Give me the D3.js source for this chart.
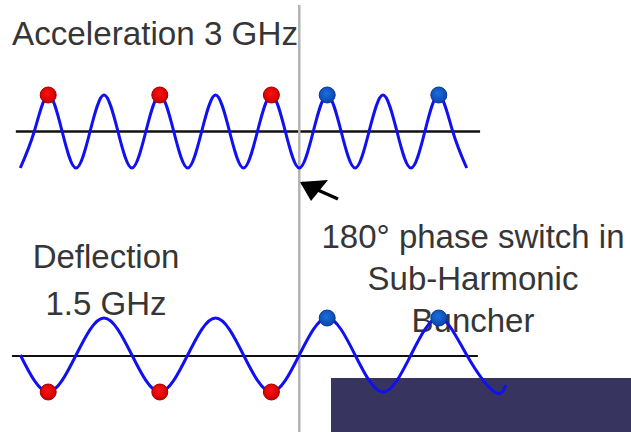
<!DOCTYPE html>
<html>
<head>
<meta charset="utf-8">
<script src="https://cdn.jsdelivr.net/npm/d3@7/dist/d3.min.js"></script>
<style>
  html, body { margin: 0; padding: 0; background: #fff; }
  svg { display: block; }
  text { font-family: "Liberation Sans", Arial, sans-serif; fill: #363636; }
</style>
</head>
<body>
<svg id="chart" width="631" height="432"></svg>
<script>
// ---- data (x in units of 3 GHz RF periods, y in normalised amplitude) ----
// Acceleration 3 GHz wave: extrema and zero crossings
const accelT = [0,0.25,0.5,0.75,1,1.25,1.5,1.75,2,2.25,2.5,2.75,3,3.25,3.5,3.75,4,
                4.25,4.5,4.75,5,5.25,5.5,5.75,6,6.25,6.5,6.75,7,7.25,7.5,7.75,8];
const accelV = [-1,0,1,0,-1,0,1,0,-1,0,1,0,-1,0,1,0,-1,
                0,1,0,-1,0,1,0,-1,0,1,0,-1,0,1,0,-1];
// Deflection 1.5 GHz wave
const deflT = [0,0.5,1,1.5,2,2.5,3,3.5,4,4.5,5,5.5,6,6.5,7,7.5,8,8.5,8.7];
const deflV = [0,-1,0,1,0,-1,0,1,0,-1,0,1,0,-1,0,1,0,-1,-0.81];
// bunches before the phase switch (red) and after (blue)
const redBunchT  = [0.5, 2.5, 4.5];
const blueBunchT = [5.5, 7.5];
const accelRedV = [1, 1, 1];
const accelBlueV = [1, 1];
const deflRedV = [-1, -1, -1];
const deflBlueV = [1, 1];
const switchT = 5;
const axisRangeTop = [-0.08, 8.24];
const axisRangeBottom = [-0.15, 8.2];
const titleTop = "Acceleration 3 GHz";
const titleBottom = ["Deflection", "1.5 GHz"];
const note = ["180° phase switch in", "Sub-Harmonic", "Buncher"];

// ---- scales ----
const x = d3.scaleLinear().domain([0, 8]).range([20.3, 466.7]);
const yTop = d3.scaleLinear().domain([-1, 1]).range([168, 95]);
const yBot = d3.scaleLinear().domain([-1, 1]).range([392, 318]);

const svg = d3.select("#chart");
const defs = svg.append("defs");
function grad(id, c0, c1) {
  const g = defs.append("radialGradient").attr("id", id)
    .attr("cx", "45%").attr("cy", "40%").attr("r", "60%");
  g.append("stop").attr("offset", "0%").attr("stop-color", c0);
  g.append("stop").attr("offset", "100%").attr("stop-color", c1);
}
grad("gRed", "#ff1010", "#c80000");
grad("gBlue", "#1a6ee0", "#0a45a8");

// dark box at lower right
svg.append("rect").attr("x", 331).attr("y", 378).attr("width", 300).attr("height", 54)
  .attr("fill", "#37355f");

// texts
svg.append("text").attr("x", 12).attr("y", 45).attr("font-size", 33)
  .attr("textLength", 286).attr("lengthAdjust", "spacingAndGlyphs").text(titleTop);
svg.selectAll("text.bl").data(titleBottom).join("text").attr("class", "bl")
  .attr("x", 106).attr("y", (d, i) => 268 + i * 47)
  .attr("font-size", 33).attr("text-anchor", "middle").text(d => d);
svg.selectAll("text.note").data(note).join("text").attr("class", "note")
  .attr("x", 473).attr("y", (d, i) => 248 + i * 42.2)
  .attr("font-size", 33).attr("text-anchor", "middle").text(d => d);

// baselines
svg.append("line").attr("x1", x(axisRangeTop[0])).attr("x2", x(axisRangeTop[1]))
  .attr("y1", yTop(0)).attr("y2", yTop(0)).attr("stroke", "#111").attr("stroke-width", 2.5);
svg.append("line").attr("x1", x(axisRangeBottom[0])).attr("x2", x(axisRangeBottom[1]))
  .attr("y1", yBot(0) + 1).attr("y2", yBot(0) + 1).attr("stroke", "#111").attr("stroke-width", 2);

// phase switch line
svg.append("line").attr("x1", x(switchT)).attr("x2", x(switchT))
  .attr("y1", 5).attr("y2", 432).attr("stroke", "#b4b4b4").attr("stroke-width", 2.5);

// arrow
svg.append("line").attr("x1", 338).attr("y1", 199).attr("x2", 302).attr("y2", 183)
  .attr("stroke", "#000").attr("stroke-width", 3.5);
svg.append("path").attr("d", "M300,182 L328,180 L311,201 Z").attr("fill", "#000");

// waves
const lineTop = d3.line().x(d => x(d[0])).y(d => yTop(d[1])).curve(d3.curveNatural);
const lineBot = d3.line().x(d => x(d[0])).y(d => yBot(d[1])).curve(d3.curveNatural);
svg.append("path").attr("d", lineTop(d3.zip(accelT, accelV)))
  .attr("fill", "none").attr("stroke", "#1010f0").attr("stroke-width", 3);
svg.append("path").attr("d", lineBot(d3.zip(deflT, deflV)))
  .attr("fill", "none").attr("stroke", "#1010f0").attr("stroke-width", 3);

// bunches
function dots(ts, vs, y, fill, stroke) {
  svg.append("g").selectAll("circle").data(d3.zip(ts, vs)).join("circle")
    .attr("cx", d => x(d[0])).attr("cy", d => y(d[1])).attr("r", 8)
    .attr("fill", fill).attr("stroke", stroke).attr("stroke-width", 1);
}
dots(redBunchT, accelRedV, yTop, "url(#gRed)", "#a00000");
dots(blueBunchT, accelBlueV, yTop, "url(#gBlue)", "#083a90");
dots(redBunchT, deflRedV, yBot, "url(#gRed)", "#a00000");
dots(blueBunchT, deflBlueV, yBot, "url(#gBlue)", "#083a90");
</script>
</body>
</html>
